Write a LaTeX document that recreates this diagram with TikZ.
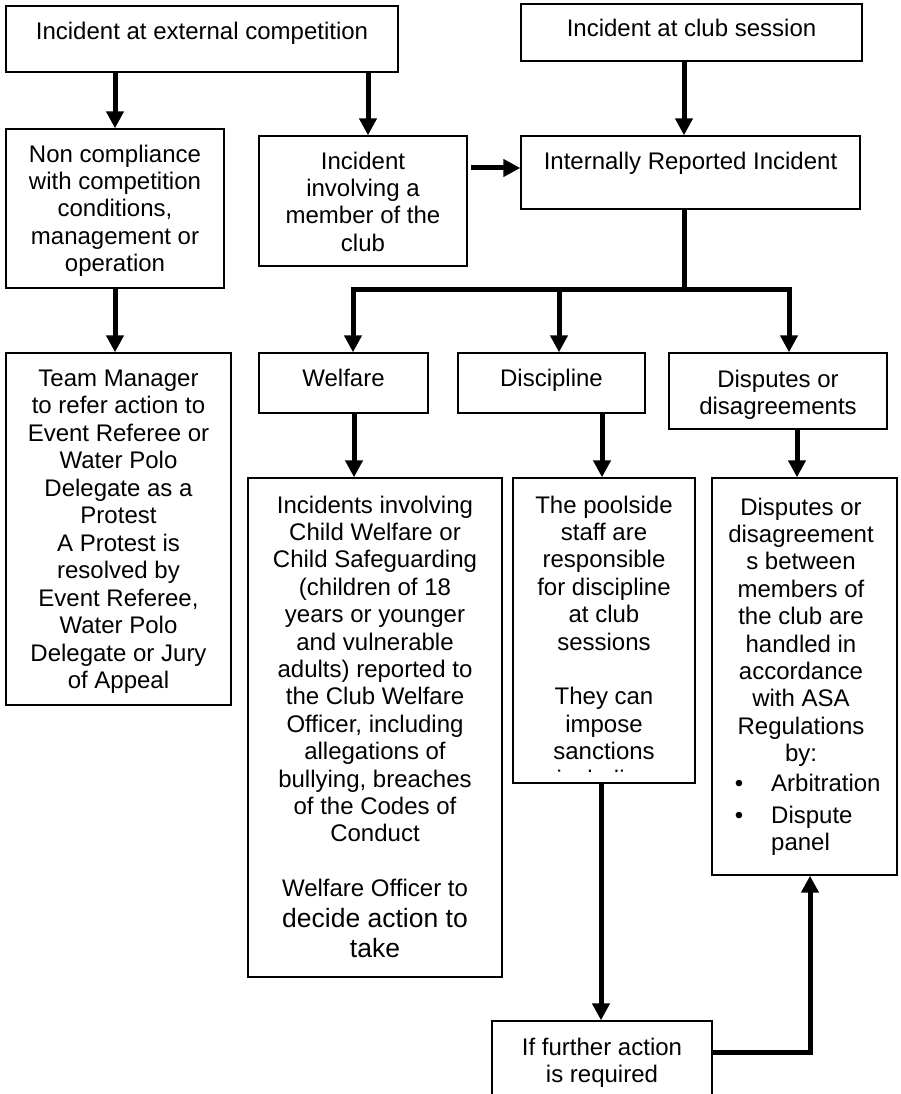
\documentclass[tikz,border=0pt]{standalone}
\usepackage{fontspec}
\setmainfont{Liberation Sans}
\usetikzlibrary{arrows.meta}
\newcommand\mkbox[5]{\node[boxst, minimum width=#4-#2, minimum height=#5-#3] (#1) at ({(#2+#4)/2},{(#3+#5)/2}) {};}
\tikzset{
  boxst/.style={draw, line width=1.4pt, inner sep=0pt, fill=white},
  txt/.style={anchor=north, align=center, inner sep=0pt, font=\fontsize{24}{27.4}\selectfont},
  conn/.style={line width=5pt},
  arr/.style={line width=5pt, -{Triangle[width=17pt,length=17pt]}},
}
\begin{document}
\begin{tikzpicture}[x=1pt,y=-1pt]
\clip (0,0) rectangle (900,1094);
\useasboundingbox (0,0) rectangle (900,1094);
\fill[white] (0,0) rectangle (900,1094);
% boxes
\mkbox{ext}{6}{6}{398}{72}
\mkbox{club}{521}{4}{862}{61}
\mkbox{iri}{521}{136}{860}{209}
\mkbox{noncomp}{6}{129}{224}{288}
\mkbox{inv}{259}{136}{467}{266}
\mkbox{welf}{259}{353}{428}{413}
\mkbox{disc}{458}{353}{645}{413}
\mkbox{disp}{669}{353}{887}{429}
\mkbox{team}{6}{353}{231}{705}
\mkbox{wd}{248}{478}{502}{977}
\mkbox{dd}{513}{478}{695}{783}
\mkbox{sd}{712}{478}{897}{875}
\mkbox{bot}{492}{1021}{712}{1110}
% texts
\node[txt] (t1) at (202,20) {\strut Incident at external competition};
\node[txt] (t2) at (691.5,16.7) {\strut Incident at club session};
\node[txt] (t3) at (690.5,149.7) {\strut Internally Reported Incident};
\node[txt] (t4) at (115,142.7) {\strut Non compliance\\with competition\\conditions,\\management or\\operation};
\node[txt] (t5) at (363,149.7) {\strut Incident\\involving a\\member of the\\club};
\node[txt] (t6) at (343.5,366.7) {\strut Welfare};
\node[txt] (t7) at (551.5,366.7) {\strut Discipline};
\node[txt] (t8) at (778,367.7) {\strut Disputes or\\disagreements};
\node[txt, font=\fontsize{24}{27.5}\selectfont] (t9) at (118.5,366.7) {\strut Team Manager\\to refer action to\\Event Referee or\\Water Polo\\Delegate as a\\Protest\\A Protest is\\resolved by\\Event Referee,\\Water Polo\\Delegate or Jury\\of Appeal};
\node[txt] (t11) at (375,493.7) {\strut Incidents involving\\Child Welfare or\\Child Safeguarding\\(children of 18\\years or younger\\and vulnerable\\adults) reported to\\the Club Welfare\\Officer, including\\allegations of\\bullying, breaches\\of the Codes of\\Conduct\\[27.4pt]Welfare Officer to};
\node[txt, font=\fontsize{26.5}{29.5}\selectfont] (t12) at (375,907) {\strut decide action to\\take};
\begin{scope}
\clip (dd.north west) rectangle ([yshift=12pt]dd.south east);
\node[txt] (t13) at (604,493.7) {\strut The poolside\\staff are\\responsible\\for discipline\\at club\\sessions\\[27.4pt]They can\\impose\\sanctions\\including};
\end{scope}
\node[txt] (t14) at (801,495.7) {\strut Disputes or\\disagreement\\s between\\members of\\the club are\\handled in\\accordance\\with ASA\\Regulations\\by:};
\node[anchor=base, inner sep=0pt, font=\fontsize{24}{27.4}\selectfont] (b1) at (739,791) {\textbullet};
\node[anchor=base west, inner sep=0pt, font=\fontsize{24}{27.4}\selectfont] (t15) at (771,791) {Arbitration};
\node[anchor=base, inner sep=0pt, font=\fontsize{24}{27.4}\selectfont] (b2) at (739,823) {\textbullet};
\node[txt, anchor=north west, align=left] (t16) at (771,803.7) {\strut Dispute\\panel};
\node[txt] (t17) at (602,1035.7) {\strut If further action\\is required};
% connectors
\draw[arr] (ext.south -| noncomp.north) -- (noncomp.north);
\coordinate (a1) at ([xshift=5pt]inv.north);
\draw[arr] (a1 |- ext.south) -- (a1);
\coordinate (a2) at ([xshift=3pt,yshift=33pt]inv.east);
\draw[arr] (a2) -- (a2 -| iri.west);
\coordinate (a3) at ([xshift=-7.5pt]club.south);
\draw[arr] (a3) -- (a3 |- iri.north);
\coordinate (a0) at ([xshift=-6.5pt]iri.south);
\coordinate (bus) at ([yshift=-80pt]a0);
\draw[conn] (a0) -- (bus);
\coordinate (a4) at ([xshift=9.5pt]welf.north);
\draw[arr] (bus) -| (a4);
\coordinate (a5) at ([xshift=7.5pt]disc.north);
\draw[arr] (a5 |- bus) -- (a5);
\coordinate (a6) at ([xshift=11pt]disp.north);
\draw[arr] (bus) -| (a6);
\draw[arr] (noncomp.south) -- (noncomp.south |- team.north);
\coordinate (a7) at ([xshift=10.5pt]welf.south);
\draw[arr] (a7) -- (a7 |- wd.north);
\coordinate (a8) at ([xshift=50.5pt]disc.south);
\draw[arr] (a8) -- (a8 |- dd.north);
\coordinate (a9) at ([xshift=19pt]disp.south);
\draw[arr] (a9) -- (a9 |- sd.north);
\coordinate (a10) at ([xshift=-3pt]dd.south);
\draw[arr] (a10) -- (a10 |- bot.north);
\coordinate (a11) at ([yshift=-32pt]bot.north east);
\coordinate (a12) at ([xshift=5.5pt]sd.south);
\draw[arr] (a11) -| (a12);
\end{tikzpicture}
\end{document}
